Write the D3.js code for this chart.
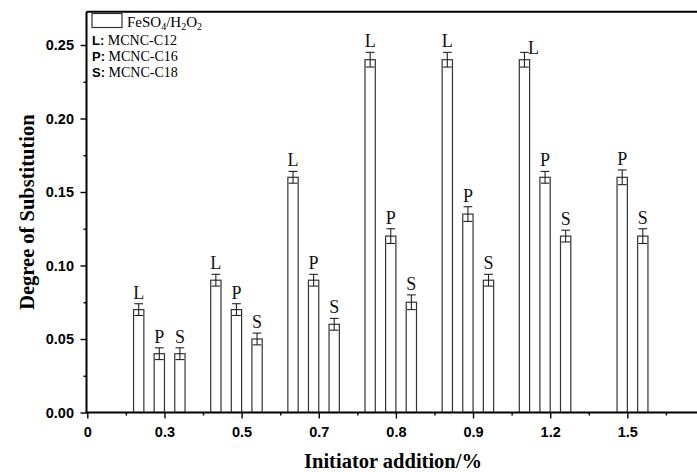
<!DOCTYPE html>
<html><head><meta charset="utf-8">
<script src="https://cdn.jsdelivr.net/npm/d3@7"></script>
<style>body{margin:0;background:#fff} svg{display:block}</style>
</head><body>
<svg id="c" width="697" height="472"></svg>
<script>
// ---- data ----
const categories = ["0.3","0.5","0.7","0.8","0.9","1.2","1.5"];
const tickLabels = ["0","0.3","0.5","0.7","0.8","0.9","1.2","1.5"];
const seriesNames = ["L","P","S"];
const seriesLegend = ["MCNC-C12","MCNC-C16","MCNC-C18"];
const valuesL = [0.07, 0.09, 0.16, 0.24, 0.24, 0.24, null];
const valuesP = [0.04, 0.07, 0.09, 0.12, 0.135, 0.16, 0.16];
const valuesS = [0.04, 0.05, 0.06, 0.075, 0.09, 0.12, 0.12];
const errorsL = [0.004, 0.004, 0.004, 0.005, 0.005, 0.005, null];
const errorsP = [0.004, 0.004, 0.004, 0.005, 0.005, 0.004, 0.005];
const errorsS = [0.004, 0.004, 0.004, 0.005, 0.004, 0.004, 0.005];
const yTicks = [0, 0.05, 0.10, 0.15, 0.20, 0.25];

// ---- layout ----
const svg = d3.select("#c");
const pLeft = 86.5, pBottom = 412.5, pTop = 11.7;
const unit = 77.15;
const x = d3.scaleLinear().domain([0, 8]).range([pLeft + 0.8, pLeft + 0.8 + 8 * unit]);
const y = d3.scaleLinear().domain([0, 0.25]).range([pBottom, 45]);
const bw = 0.1335; // bar width in x units
const sans = "'Liberation Sans', Arial, sans-serif";
const serif = "'Liberation Serif', 'Times New Roman', serif";

const series = [
  {name: seriesNames[0], vals: valuesL, errs: errorsL},
  {name: seriesNames[1], vals: valuesP, errs: errorsP},
  {name: seriesNames[2], vals: valuesS, errs: errorsS}
];

const bars = [];
series.forEach((s, k) => {
  s.vals.forEach((v, i) => {
    if (v == null) return;
    bars.push({k, i, v, e: s.errs[i], name: s.name});
  });
});

const g = svg.append("g");
const barX = d => x(d.i + 1 + (2 * d.k - 3) * bw);
const barW = x(bw) - x(0);

g.selectAll("rect.bar").data(bars).join("rect")
  .attr("class", "bar")
  .attr("x", barX)
  .attr("y", d => y(d.v))
  .attr("width", barW)
  .attr("height", d => y(0) - y(d.v))
  .attr("fill", "#fff")
  .attr("stroke", "#333")
  .attr("stroke-width", 1.2);

// error bars
const eb = g.selectAll("g.err").data(bars).join("g").attr("class", "err")
  .attr("stroke", "#222").attr("stroke-width", 1.1);
const cx = d => barX(d) + barW / 2;
const capW = barW * 0.85;
eb.append("line").attr("x1", cx).attr("x2", cx)
  .attr("y1", d => y(d.v + d.e)).attr("y2", d => y(d.v - d.e));
eb.append("line").attr("x1", d => cx(d) - capW / 2).attr("x2", d => cx(d) + capW / 2)
  .attr("y1", d => y(d.v + d.e)).attr("y2", d => y(d.v + d.e));
eb.append("line").attr("x1", d => cx(d) - capW / 2).attr("x2", d => cx(d) + capW / 2)
  .attr("y1", d => y(d.v - d.e)).attr("y2", d => y(d.v - d.e));

// bar labels
g.selectAll("text.lab").data(bars).join("text")
  .attr("class", "lab")
  .attr("x", d => cx(d) + ((d.k === 0 && d.i === 5) ? 9 : 0))
  .attr("y", d => y(d.v + d.e) - 5 + ((d.k === 0 && d.i === 5) ? 7 : 0))
  .attr("text-anchor", "middle")
  .attr("font-family", serif)
  .attr("font-size", 18)
  .attr("fill", "#111")
  .text(d => d.name);

// ---- axes ----
const xAxis = svg.append("g").attr("transform", `translate(0,${pBottom})`)
  .call(d3.axisBottom(x).tickValues(d3.range(0, 8)).tickSize(6).tickSizeOuter(0)
    .tickFormat(i => tickLabels[i]));
const xMinor = svg.append("g").attr("transform", `translate(0,${pBottom})`)
  .call(d3.axisBottom(x).tickValues(d3.range(0.5, 8, 1)).tickSize(3).tickSizeOuter(0).tickFormat(""));
xMinor.select(".domain").remove();

const yAxis = svg.append("g").attr("transform", `translate(${pLeft},0)`)
  .call(d3.axisLeft(y).tickValues(yTicks).tickSize(6).tickSizeOuter(0)
    .tickFormat(d3.format(".2f")));
const yMinor = svg.append("g").attr("transform", `translate(${pLeft},0)`)
  .call(d3.axisLeft(y).tickValues(d3.range(0.025, 0.25, 0.05)).tickSize(3).tickSizeOuter(0).tickFormat(""));
yMinor.select(".domain").remove();

[xAxis, yAxis].forEach(a => {
  a.select(".domain").remove();
  a.selectAll("text").attr("font-family", sans).attr("font-weight", "bold")
    .attr("font-size", 14.5).attr("fill", "#000");
});
svg.selectAll(".tick line").attr("stroke", "#000").attr("stroke-width", 1.4);
xAxis.selectAll("text").attr("dy", "0.71em").attr("y", 14);
yAxis.selectAll("text").attr("x", -12.5);

// axis lines and top border
svg.append("line").attr("x1", pLeft).attr("x2", 697).attr("y1", pBottom).attr("y2", pBottom)
  .attr("stroke", "#000").attr("stroke-width", 2.2);
svg.append("line").attr("x1", pLeft).attr("x2", pLeft).attr("y1", pTop).attr("y2", pBottom + 1)
  .attr("stroke", "#000").attr("stroke-width", 2);
svg.append("line").attr("x1", pLeft).attr("x2", 697).attr("y1", pTop).attr("y2", pTop)
  .attr("stroke", "#000").attr("stroke-width", 2);

// axis titles
svg.append("text").attr("x", 393).attr("y", 468)
  .attr("text-anchor", "middle").attr("font-family", serif).attr("font-weight", "bold")
  .attr("font-size", 20.5).text("Initiator addition/%");
svg.append("text").attr("transform", `translate(34,${(pTop + pBottom) / 2}) rotate(-90)`)
  .attr("text-anchor", "middle").attr("font-family", serif).attr("font-weight", "bold")
  .attr("font-size", 20.5).text("Degree of Substitution");

// ---- legend ----
const lg = svg.append("g");
lg.append("rect").attr("x", 92).attr("y", 13.5).attr("width", 30).attr("height", 14)
  .attr("fill", "#fff").attr("stroke", "#333").attr("stroke-width", 1.2);
const ft = lg.append("text").attr("x", 127).attr("y", 27).attr("font-family", serif)
  .attr("font-size", 15);
ft.append("tspan").text("FeSO");
ft.append("tspan").attr("font-size", 10).attr("dy", 3).text("4");
ft.append("tspan").attr("dy", -3).text("/H");
ft.append("tspan").attr("font-size", 10).attr("dy", 3).text("2");
ft.append("tspan").attr("dy", -3).text("O");
ft.append("tspan").attr("font-size", 10).attr("dy", 3).text("2");

seriesNames.forEach((n, k) => {
  const t = lg.append("text").attr("x", 92).attr("y", 45 + k * 16);
  t.append("tspan").attr("font-family", sans).attr("font-weight", "bold")
    .attr("font-size", 13).text(n + ":");
  t.append("tspan").attr("font-family", serif).attr("font-size", 14)
    .text(" " + seriesLegend[k]);
});
</script>
</body></html>
